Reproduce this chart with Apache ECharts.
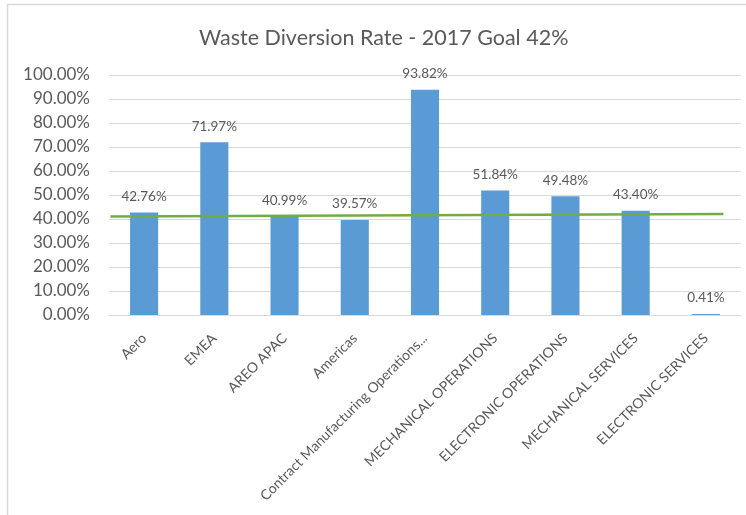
<!DOCTYPE html>
<html>
<head>
<meta charset="utf-8">
<script src="https://cdn.jsdelivr.net/npm/echarts@6/dist/echarts.min.js"></script>
<style>
html,body{margin:0;padding:0;background:#fff;}
#c{width:746px;height:515px;}
</style>
</head>
<body>
<div id="c"></div>
<script>
const categories = ['Aero','EMEA','AREO APAC','Americas','Contract Manufacturing Operations...','MECHANICAL OPERATIONS','ELECTRONIC OPERATIONS','MECHANICAL SERVICES','ELECTRONIC SERVICES'];
const rates = [42.76, 71.97, 40.99, 39.57, 93.82, 51.84, 49.48, 43.40, 0.41];
const goalX = [-0.48, 8.25];
const goalY = [41.0, 42.1];
const yTicks = [0,10,20,30,40,50,60,70,80,90,100];

const chart = echarts.init(document.getElementById('c'));
const font = 'Lato, "Open Sans", sans-serif';
chart.setOption({
  animation: false,
  textStyle: {fontFamily: font},
  title: {
    text: 'Waste Diversion Rate - 2017 Goal 42%',
    left: 194, top: 22,
    textStyle: {fontFamily: font, fontSize: 21.5, fontWeight: 'normal', color: '#595959'}
  },
  graphic: [{
    type: 'rect', z: -10,
    shape: {x: 7.5, y: 4.5, width: 900, height: 700},
    style: {fill: 'none', stroke: '#d9d9d9', lineWidth: 1.5}
  }],
  grid: {left: 109, right: 5, top: 75, bottom: 200, containLabel: false},
  xAxis: [{
    type: 'category', data: categories,
    axisLine: {lineStyle: {color: '#d9d9d9'}},
    axisTick: {show: false},
    axisLabel: {rotate: 45, interval: 0, color: '#595959', fontSize: 14, margin: 21, fontFamily: font}
  }, {
    type: 'value', min: -0.5, max: 8.5, show: false
  }],
  yAxis: {
    type: 'value', min: 0, max: 100, interval: 10,
    axisLine: {show: false}, axisTick: {show: false},
    splitLine: {lineStyle: {color: '#d9d9d9'}},
    axisLabel: {color: '#595959', fontSize: 17, margin: 19, fontFamily: font,
      formatter: v => yTicks.includes(v) ? v.toFixed(2) + '%' : ''}
  },
  series: [{
    type: 'bar', data: rates, barWidth: '40%',
    itemStyle: {color: '#5B9BD5'},
    label: {show: true, position: 'top', distance: 9, color: '#595959', fontSize: 13.5, fontFamily: font,
      formatter: p => p.value.toFixed(2) + '%'}
  }, {
    type: 'line', xAxisIndex: 1, symbol: 'none',
    data: goalX.map((x, i) => [x, goalY[i]]),
    lineStyle: {color: '#70AD47', width: 2.5}
  }]
});
</script>
</body>
</html>
